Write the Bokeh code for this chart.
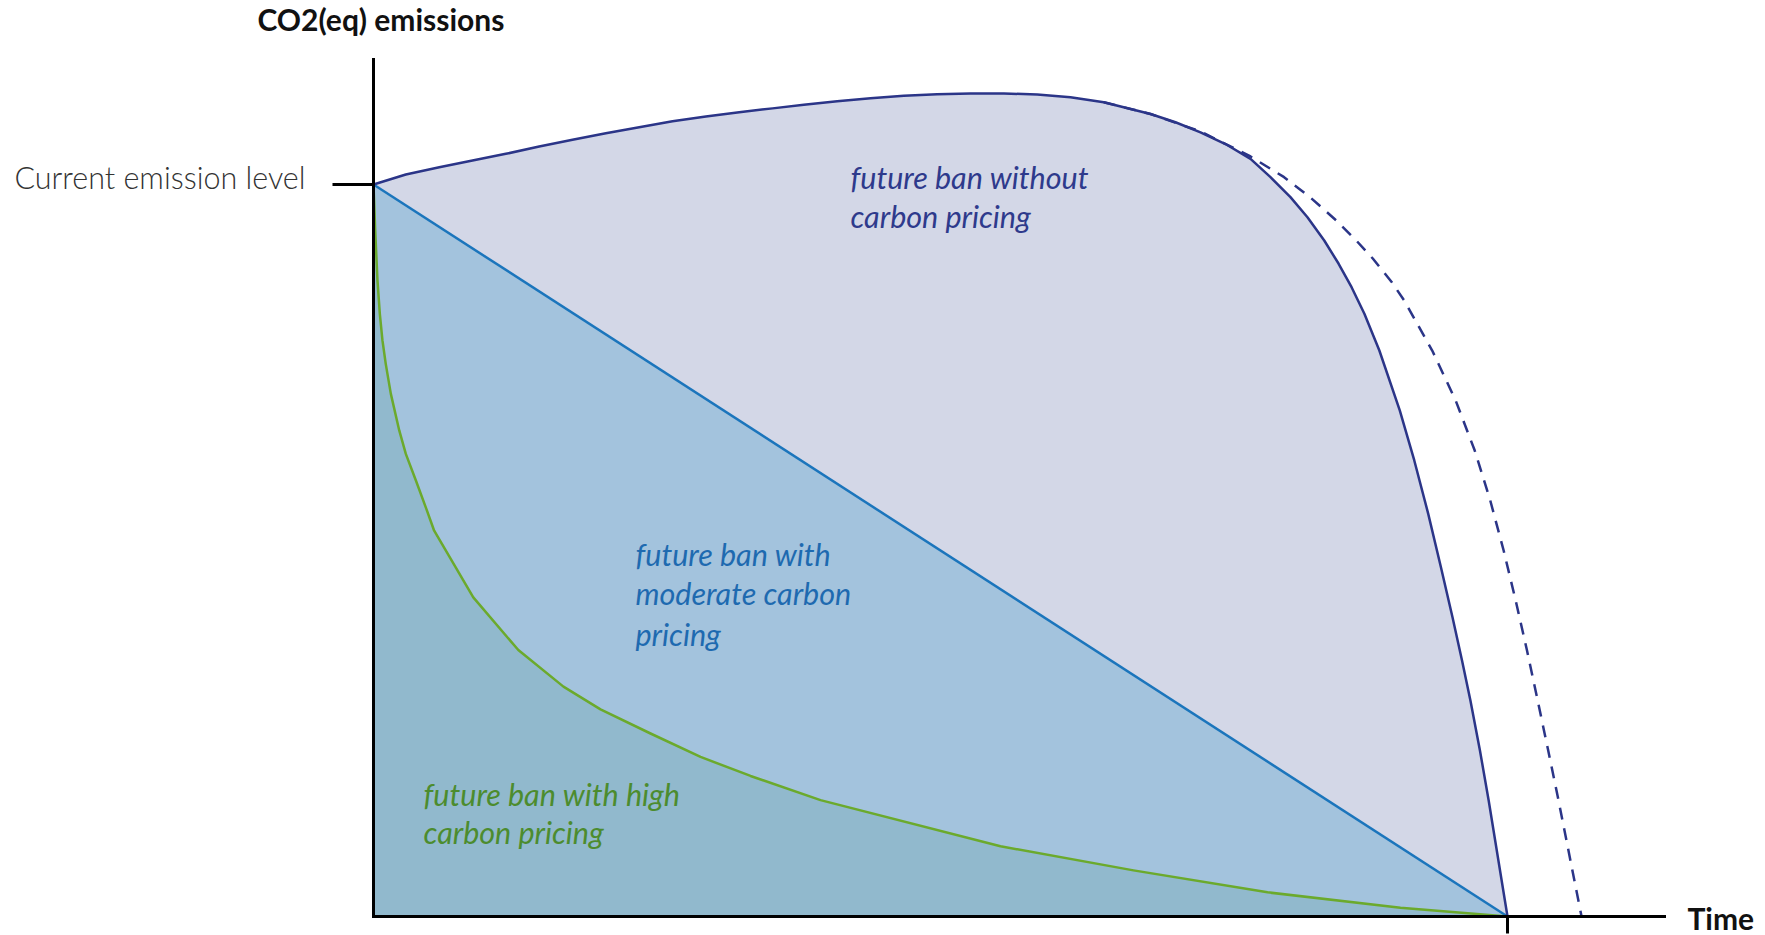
from bokeh.plotting import figure
from bokeh.models import Range1d, LinearAxis, FixedTicker, Label
from bokeh.embed import file_html
from bokeh.resources import INLINE

# ---- data (time from now = 0 to ban = 1; emissions relative to current level = 1) ----
no_pricing_x = [0.0, 0.0285, 0.0580, 0.0873, 0.1167, 0.1461, 0.1755, 0.2049, 0.2343,
                0.2637, 0.2931, 0.3225, 0.3519, 0.3795, 0.4089, 0.4383, 0.4677, 0.4971,
                0.5265, 0.5559, 0.5853, 0.6146, 0.6440, 0.6852, 0.7072, 0.7293, 0.7513,
                0.7734, 0.7910, 0.8086, 0.8236, 0.8384, 0.8511, 0.8625, 0.8738, 0.8870,
                0.9050, 0.9178, 0.9301, 0.9413, 0.9515, 0.9599, 0.9673, 0.9757, 0.9834,
                1.0]
no_pricing_y = [1.0, 1.0137, 1.0236, 1.0328, 1.0419, 1.0519, 1.0611, 1.0701, 1.0783,
                1.0865, 1.0929, 1.0988, 1.1040, 1.1089, 1.1138, 1.1179, 1.1212, 1.1234,
                1.1243, 1.1243, 1.1230, 1.1193, 1.1124, 1.0963, 1.0850, 1.0713, 1.0553,
                1.0351, 1.0100, 0.9827, 0.9553, 0.9235, 0.8917, 0.8597, 0.8234, 0.7732,
                0.6913, 0.6230, 0.5501, 0.4772, 0.4089, 0.3497, 0.2951, 0.2268, 0.1585,
                0.0]

late_ban_x = [0.6440, 0.6852, 0.7293, 0.7734, 0.8030, 0.8259, 0.8490, 0.8666, 0.8812,
              0.8980, 0.9089, 0.9336, 0.9543, 0.9711, 0.9848, 0.9966, 1.0072, 1.0172,
              1.0266, 1.0359, 1.0450, 1.0653]
late_ban_y = [1.1124, 1.0963, 1.0724, 1.0383, 1.0100, 0.9827, 0.9508, 0.9235, 0.8989,
              0.8665, 0.8415, 0.7732, 0.7049, 0.6366, 0.5683, 0.5000, 0.4317, 0.3634,
              0.2951, 0.2268, 0.1585, 0.0]

moderate_x = [0.0, 1.0]
moderate_y = [1.0, 0.0]

high_x = [0.0, 0.0015, 0.0035, 0.0056, 0.0079, 0.0108, 0.0153, 0.0227, 0.0285, 0.0373,
          0.0461, 0.0535, 0.0880, 0.1277, 0.1675, 0.2002, 0.2443, 0.2884, 0.3325,
          0.3942, 0.5529, 0.6702, 0.7884, 0.9056, 1.0]
high_y = [1.0, 0.937, 0.869, 0.823, 0.787, 0.755, 0.714, 0.664, 0.632, 0.596,
          0.559, 0.527, 0.436, 0.364, 0.314, 0.283, 0.250, 0.218, 0.192,
          0.159, 0.096, 0.063, 0.033, 0.012, 0.0]

y_ticks = [1.0]
y_tick_labels = ["Current emission level"]
x_ticks = [1.0]

# ---- colours ----
NAVY = "#2B3588"
BLUE = "#1B75BC"
GREEN = "#6BAA2C"
FILL_TOP = "#D3D7E7"
FILL_MID = "#A3C3DD"
FILL_LOW = "#91B9CD"

p = figure(width=1765, height=935, output_backend="svg", toolbar_location=None,
           x_range=Range1d(-0.328924, 1.227513), y_range=Range1d(-0.025956, 1.251366),
           x_axis_type=None, y_axis_type=None, min_border=0,
           outline_line_color=None, background_fill_color="white")

# areas
p.patch(no_pricing_x + [0.0], no_pricing_y + [0.0], fill_color=FILL_TOP, line_color=None)
p.patch(moderate_x + [0.0], moderate_y + [0.0], fill_color=FILL_MID, line_color=None)
p.patch(high_x + [0.0], high_y + [0.0], fill_color=FILL_LOW, line_color=None)

# lines
p.line(moderate_x, moderate_y, line_color=BLUE, line_width=2.5)
p.line(high_x, high_y, line_color=GREEN, line_width=2.5, line_join="round")
p.line(late_ban_x, late_ban_y, line_color=NAVY, line_width=2.5, line_dash="12 9")
p.line(no_pricing_x, no_pricing_y, line_color=NAVY, line_width=2.5, line_join="round")

# axes
yaxis = LinearAxis(fixed_location=0, bounds=(0, 1.1714),
                   ticker=FixedTicker(ticks=y_ticks, minor_ticks=[]),
                   major_label_overrides={y_ticks[0]: ""},
                   major_tick_out=41, major_tick_in=0,
                   major_tick_line_width=3, major_tick_line_color="black",
                   axis_line_width=3, axis_line_color="black", axis_line_cap="square",
                   minor_tick_line_color=None)
xaxis = LinearAxis(fixed_location=0, bounds=(0, 1.1384),
                   ticker=FixedTicker(ticks=x_ticks, minor_ticks=[]),
                   major_label_overrides={x_ticks[0]: ""},
                   major_tick_out=17, major_tick_in=0,
                   major_tick_line_width=3, major_tick_line_color="black",
                   axis_line_width=3, axis_line_color="black", axis_line_cap="square",
                   minor_tick_line_color=None)
p.add_layout(yaxis, "left")
p.add_layout(xaxis, "below")

def add_label(x, y, text, color, size, style, font="Lato", align="left"):
    p.add_layout(Label(x=x, y=y, text=text, text_color=color, text_font=font,
                       text_font_size=size, text_font_style=style,
                       text_baseline="alphabetic", text_align=align))

# tick label of the current emission level (sits slightly above the tick)
add_label(-0.0600, 1.0096, y_tick_labels[0], "#333333", "30.5px", "normal",
          font="Lato Light", align="right")

add_label(-0.1023, 1.2260, "CO2(eq) emissions", "#111111", "30px", "bold")
add_label(1.1587, -0.0014, "Time", "#111111", "30px", "bold")

add_label(0.4206, 1.0096, "future ban without", "#2E3A8C", "30.5px", "italic")
add_label(0.4206, 0.9563, "carbon pricing", "#2E3A8C", "30.5px", "italic")

add_label(0.2310, 0.4959, "future ban with", "#1E6AB0", "30.5px", "italic")
add_label(0.2310, 0.4413, "moderate carbon", "#1E6AB0", "30.5px", "italic")
add_label(0.2310, 0.3866, "pricing", "#1E6AB0", "30.5px", "italic")

add_label(0.0441, 0.1680, "future ban with high", "#4C8C2E", "30.5px", "italic")
add_label(0.0441, 0.1148, "carbon pricing", "#4C8C2E", "30.5px", "italic")

open("out.html", "w").write(file_html(p, INLINE))
